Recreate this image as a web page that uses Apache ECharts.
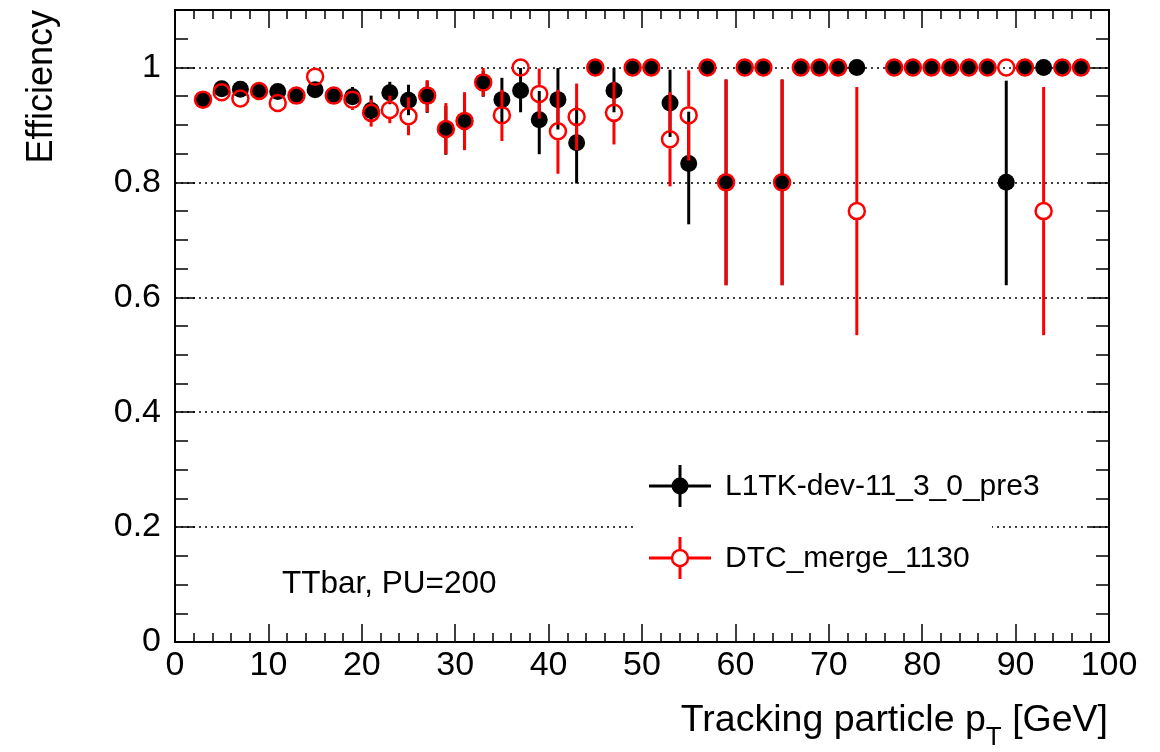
<!DOCTYPE html>
<html>
<head>
<meta charset="utf-8">
<script src="https://cdn.jsdelivr.net/npm/echarts@6/dist/echarts.min.js"></script>
<style>
  html, body { margin: 0; padding: 0; background: #fff; }
  #eff-chart { width: 1160px; height: 752px; }
</style>
</head>
<body>
<div id="eff-chart"></div>
<script>
//----------------------Data----------------------
// bin centres [GeV], 2 GeV wide bins; 75 is empty for both samples
let pt_bins = [3, 5, 7, 9, 11, 13, 15, 17, 19, 21, 23, 25, 27, 29, 31, 33, 35, 37, 39, 41, 43, 45, 47, 49,
               51, 53, 55, 57, 59, 61, 63, 65, 67, 69, 71, 73, 75, 77, 79, 81, 83, 85, 87, 89, 91, 93, 95, 97];

// L1TK-dev-11_3_0_pre3
let l1tk_eff = [0.944, 0.963, 0.962, 0.959, 0.958, 0.951, 0.961, 0.951, 0.949, 0.925, 0.956, 0.943, 0.951, 0.893, 0.907, 0.974,
                0.944, 0.960, 0.909, 0.944, 0.869, 1, 0.960, 1, 1, 0.938, 0.833, 1, 0.8, 1, 1, 0.8,
                1, 1, 1, 1, null, 1, 1, 1, 1, 1, 1, 0.8, 1, 1, 1, 1];
let l1tk_err_lo = [0.006, 0.006, 0.006, 0.007, 0.008, 0.008, 0.009, 0.010, 0.012, 0.020, 0.020, 0.026, 0.030, 0.045, 0.050, 0.025,
                   0.040, 0.038, 0.060, 0.052, 0.071, 0, 0.038, 0, 0, 0.059, 0.106, 0, 0.179, 0, 0, 0.179,
                   0, 0, 0, 0, null, 0, 0, 0, 0, 0, 0, 0.179, 0, 0, 0, 0];
let l1tk_err_hi = [0.005, 0.005, 0.006, 0.006, 0.007, 0.008, 0.008, 0.009, 0.017, 0.026, 0.019, 0.027, 0.025, 0.040, 0.045, 0.020,
                   0.038, 0.039, 0.050, 0.055, 0.065, 0, 0.039, 0, 0, 0.058, 0.090, 0, 0.179, 0, 0, 0.179,
                   0, 0, 0, 0, null, 0, 0, 0, 0, 0, 0, 0.177, 0, 0, 0, 0];

// DTC_merge_1130
let dtc_eff = [0.944, 0.957, 0.946, 0.959, 0.938, 0.951, 0.984, 0.951, 0.944, 0.921, 0.926, 0.915, 0.951, 0.893, 0.907, 0.974,
               0.917, 1, 0.954, 0.889, 0.914, 1, 0.921, 1, 1, 0.875, 0.917, 1, 0.8, 1, 1, 0.8,
               1, 1, 1, 0.75, null, 1, 1, 1, 1, 1, 1, 1, 1, 0.75, 1, 1];
let dtc_err_lo = [0.006, 0.006, 0.007, 0.007, 0.009, 0.008, 0.008, 0.010, 0.018, 0.024, 0.023, 0.033, 0.029, 0.044, 0.051, 0.024,
                  0.045, 0, 0.043, 0.074, 0.058, 0, 0.055, 0, 0, 0.082, 0.079, 0, 0.179, 0, 0, 0.179,
                  0, 0, 0, 0.216, null, 0, 0, 0, 0, 0, 0, 0, 0, 0.216, 0, 0];
let dtc_err_hi = [0.005, 0.006, 0.007, 0.006, 0.009, 0.008, 0.007, 0.009, 0.015, 0.023, 0.025, 0.033, 0.027, 0.045, 0.050, 0.025,
                  0.044, 0, 0.044, 0.072, 0.058, 0, 0.054, 0, 0, 0.082, 0.078, 0, 0.179, 0, 0, 0.179,
                  0, 0, 0, 0.216, null, 0, 0, 0, 0, 0, 0, 0, 0, 0.216, 0, 0];

let series_names = ["L1TK-dev-11_3_0_pre3", "DTC_merge_1130"];
let note_text = "TTbar, PU=200";

//--------------------Location--------------------
let font_family = "'Liberation Sans', Arial, Helvetica, sans-serif";
let eff_chart_grid = {left: 175, right: 51, top: 10, bottom: 110};
let marker_size_full = 17;
let marker_size_open = 16;

//---------------------Helpers---------------------
function to_points(eff) {
    let out = [];
    for (let i = 0; i < pt_bins.length; i++) {
        if (eff[i] === null) continue;
        out.push([pt_bins[i], eff[i]]);
    }
    return out;
}
function to_error_rows(eff, lo, hi) {
    let out = [];
    for (let i = 0; i < pt_bins.length; i++) {
        if (eff[i] === null) continue;
        out.push([pt_bins[i], eff[i] - lo[i], eff[i] + hi[i], eff[i]]);
    }
    return out;
}
// vertical error bar, leaving a gap of 'gap' px around the marker
function error_bar_renderer(color, gap) {
    return function (params, api) {
        let x = api.value(0);
        let p_lo = api.coord([x, api.value(1)]);
        let p_hi = api.coord([x, api.value(2)]);
        let p_c = api.coord([x, api.value(3)]);
        let children = [];
        let style = {stroke: color, lineWidth: 3};
        if (p_c[1] - gap - p_hi[1] > 0.5) {
            children.push({type: 'line', shape: {x1: p_c[0], y1: p_hi[1], x2: p_c[0], y2: p_c[1] - gap}, style: style});
        }
        if (p_lo[1] - (p_c[1] + gap) > 0.5) {
            children.push({type: 'line', shape: {x1: p_c[0], y1: p_c[1] + gap, x2: p_c[0], y2: p_lo[1]}, style: style});
        }
        return {type: 'group', children: children};
    };
}

//----------------------Axis----------------------
function make_x_axis(position, interval, tick_len, with_labels) {
    return {
        type: 'value', position: position, min: 0, max: 100, interval: interval,
        axisLine: {show: true, onZero: false, lineStyle: {color: '#000', width: 2}},
        axisTick: {show: true, inside: true, length: tick_len, lineStyle: {color: '#000', width: 1.5}},
        axisLabel: {show: with_labels, color: '#000', fontSize: 34, fontFamily: font_family, margin: 7},
        splitLine: {show: false},
    };
}
function make_y_axis(position, interval, tick_len, with_labels, with_grid) {
    return {
        type: 'value', position: position, min: 0, max: 1.1, interval: interval,
        axisLine: {show: true, onZero: false, lineStyle: {color: '#000', width: 2}},
        axisTick: {show: true, inside: true, length: tick_len, lineStyle: {color: '#000', width: 1.5}},
        axisLabel: {
            show: with_labels, color: '#000', fontSize: 34, fontFamily: font_family, margin: 14,
            showMaxLabel: false,
            formatter: function (v) { return v > 1.05 ? '' : String(+v.toFixed(1)); }
        },
        splitLine: {
            show: with_grid, showMinLine: false, showMaxLine: false,
            lineStyle: {color: '#000', width: 1.5, type: [2, 4]}
        },
    };
}
let eff_chart_xAxis = [
    make_x_axis('bottom', 10, 18, true),
    make_x_axis('bottom', 2, 9, false),
    make_x_axis('top', 10, 18, false),
    make_x_axis('top', 2, 9, false),
];
let eff_chart_yAxis = [
    make_y_axis('left', 0.2, 20, true, true),
    make_y_axis('left', 0.05, 13, false, false),
    make_y_axis('right', 0.2, 20, false, false),
    make_y_axis('right', 0.05, 13, false, false),
];

//---------------------Series---------------------
let eff_chart_series = [
    {
        type: 'custom', name: series_names[0] + ' err', z: 2,
        xAxisIndex: 0, yAxisIndex: 0,
        data: to_error_rows(l1tk_eff, l1tk_err_lo, l1tk_err_hi),
        encode: {x: 0, y: [1, 2]},
        renderItem: error_bar_renderer('#000', 0),
        silent: true,
    },
    {
        type: 'scatter', name: series_names[0], z: 3,
        xAxisIndex: 0, yAxisIndex: 0,
        data: to_points(l1tk_eff),
        symbol: 'circle', symbolSize: marker_size_full,
        itemStyle: {color: '#000', opacity: 1},
        silent: true,
    },
    {
        type: 'custom', name: series_names[1] + ' err', z: 4,
        xAxisIndex: 0, yAxisIndex: 0,
        data: to_error_rows(dtc_eff, dtc_err_lo, dtc_err_hi),
        encode: {x: 0, y: [1, 2]},
        renderItem: error_bar_renderer('#ff0000', 9),
        silent: true,
    },
    {
        type: 'scatter', name: series_names[1], z: 5,
        xAxisIndex: 0, yAxisIndex: 0,
        data: to_points(dtc_eff),
        symbol: 'circle', symbolSize: marker_size_open,
        itemStyle: {color: 'rgba(0,0,0,0)', borderColor: '#ff0000', borderWidth: 2.5, opacity: 1},
        silent: true,
    },
];

//--------------------Legend & text--------------------
let eff_chart_graphic = [
    // white legend box (hides the dotted grid line)
    {type: 'rect', z: 10, shape: {x: 634, y: 450, width: 358, height: 146}, style: {fill: '#fff'}},
    {type: 'line', z: 11, shape: {x1: 649, y1: 486, x2: 711, y2: 486}, style: {stroke: '#000', lineWidth: 3}},
    {type: 'line', z: 11, shape: {x1: 680, y1: 465, x2: 680, y2: 507}, style: {stroke: '#000', lineWidth: 3}},
    {type: 'circle', z: 12, shape: {cx: 680, cy: 486, r: 8.5}, style: {fill: '#000'}},
    {type: 'text', z: 12, x: 725, y: 487, style: {text: series_names[0], font: '30px ' + font_family, fill: '#000', verticalAlign: 'middle'}},
    {type: 'line', z: 11, shape: {x1: 649, y1: 558, x2: 711, y2: 558}, style: {stroke: '#ff0000', lineWidth: 3}},
    {type: 'line', z: 11, shape: {x1: 680, y1: 537, x2: 680, y2: 579}, style: {stroke: '#ff0000', lineWidth: 3}},
    {type: 'circle', z: 12, shape: {cx: 680, cy: 558, r: 8}, style: {fill: '#fff', stroke: '#ff0000', lineWidth: 2.5}},
    {type: 'text', z: 12, x: 725, y: 559, style: {text: series_names[1], font: '30px ' + font_family, fill: '#000', verticalAlign: 'middle'}},
    // sample note
    {type: 'text', z: 12, x: 282, y: 584, style: {text: note_text, font: '31.5px ' + font_family, fill: '#000', verticalAlign: 'middle'}},
    // axis titles
    {
        type: 'text', z: 12, x: 42, y: 10, rotation: Math.PI / 2,
        style: {text: 'Efficiency', font: '36px ' + font_family, fill: '#000', align: 'right', verticalAlign: 'middle'}
    },
    {
        type: 'text', z: 12, x: 1108, y: 738,
        style: {
            text: '{a|Tracking particle p}{s|T}{a| [GeV]}', fill: '#000', align: 'right', verticalAlign: 'middle',
            rich: {
                a: {fontSize: 37.5, fontFamily: font_family, lineHeight: 36, verticalAlign: 'top', fill: '#000'},
                s: {fontSize: 26, fontFamily: font_family, lineHeight: 72, verticalAlign: 'middle', fill: '#000'},
            }
        }
    },
];

//------------------Generate Graph------------------
let eff_chart = echarts.init(document.getElementById("eff-chart"));
let eff_chart_option = {
    backgroundColor: '#fff',
    animation: false,
    grid: eff_chart_grid,
    xAxis: eff_chart_xAxis,
    yAxis: eff_chart_yAxis,
    series: eff_chart_series,
    graphic: eff_chart_graphic,
    tooltip: {show: false},
};
eff_chart.setOption(eff_chart_option, true);
</script>
</body>
</html>
